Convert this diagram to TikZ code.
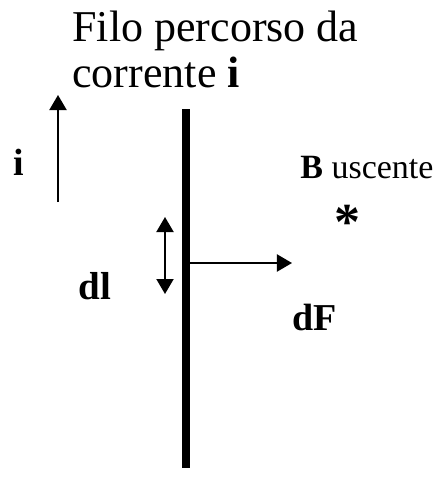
\documentclass[tikz,border=0pt]{standalone}
\usepackage{fontspec}
\setmainfont{Liberation Serif}
\usetikzlibrary{arrows.meta}

\begin{document}
\begin{tikzpicture}[
  x=0.5pt, y=-0.5pt,
  lbl/.style={inner sep=0pt, anchor=base west},
  vec/.style={line width=1pt, -{Triangle[length=7.5pt, width=8.5pt]}},
  wire/.style={line width=4pt}
]
\useasboundingbox (0,0) rectangle (440,479);
% title
\node[lbl, align=left, font=\fontsize{22}{23}\selectfont] (title) at (72,87)
  {Filo percorso da\\corrente \textbf{i}};
% wire
\coordinate (wtop) at (186,109);
\coordinate (wbot) at (186,468);
\draw[wire] (wtop) -- (wbot);
% current
\coordinate (ibot) at (58,202);
\coordinate (itop) at (58,95);
\draw[vec] (ibot) -- (itop);
\node[lbl, font=\fontsize{19}{22}\selectfont\bfseries] (ilab) at (13,175) {i};
% element dl
\coordinate (dltop) at (165,217);
\coordinate (dlbot) at (165,294);
\draw[vec, {Triangle[length=7.5pt, width=8.5pt]}-{Triangle[length=7.5pt, width=8.5pt]}] (dltop) -- (dlbot);
\node[lbl, font=\fontsize{19.5}{22}\selectfont\bfseries] (dllab) at (78,299) {dl};
% force dF
\coordinate (dfa) at (190,263);
\coordinate (dfb) at (292,263);
\draw[vec] (dfa) -- (dfb);
\node[lbl, font=\fontsize{19}{22}\selectfont\bfseries] (dflab) at (292,330) {dF};
% field
\node[lbl, font=\fontsize{17}{20}\selectfont] (blab) at (300,178) {\textbf{B} uscente};
\node[inner sep=0pt, font=\fontsize{26}{28}\selectfont\bfseries] (star) at (348,222) {*};
\end{tikzpicture}
\end{document}
